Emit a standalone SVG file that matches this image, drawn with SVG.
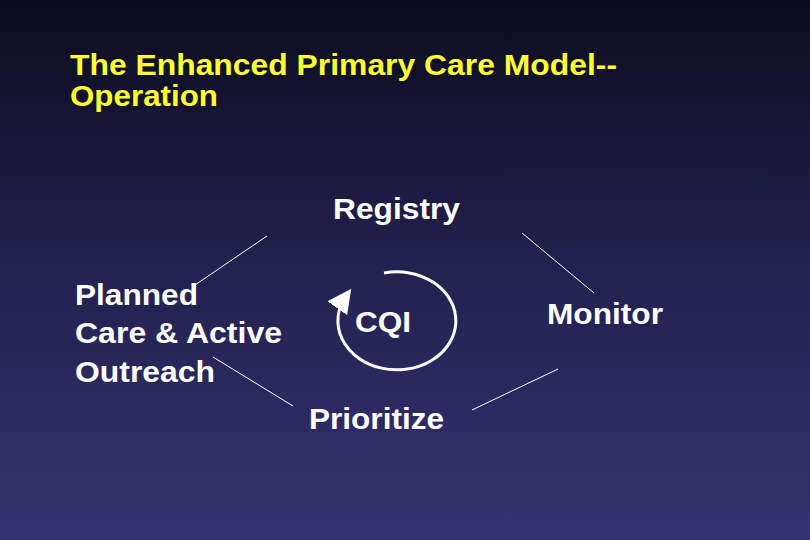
<svg xmlns="http://www.w3.org/2000/svg" width="810" height="540" viewBox="0 0 810 540">
<defs>
<linearGradient id="bg" x1="0" y1="0" x2="0" y2="1">
<stop offset="0" stop-color="#0c0c1e"/>
<stop offset="0.5" stop-color="#23214f"/>
<stop offset="1" stop-color="#363272"/>
</linearGradient>
<marker id="ah" markerWidth="8" markerHeight="8" refX="5" refY="4" orient="auto" markerUnits="strokeWidth">
<path d="M0,0 L8,4 L0,8 z" fill="#fff"/>
</marker>
<style>
.t{font-family:"Liberation Sans",Arial,sans-serif;font-weight:bold;fill:#fff;font-size:29px}
.h{font-family:"Liberation Sans",Arial,sans-serif;font-weight:bold;fill:#ffff33;font-size:29px}
.ln{stroke:#fff;stroke-width:1;fill:none}
</style>
</defs>
<rect width="810" height="540" fill="url(#bg)"/>
<g id="title"><text class="h" x="70" y="75" textLength="547" lengthAdjust="spacingAndGlyphs">The Enhanced Primary Care Model--</text><text class="h" x="70" y="106" textLength="148" lengthAdjust="spacingAndGlyphs">Operation</text></g>
<g id="connectors">
<line class="ln" x1="267" y1="236" x2="195" y2="285"/>
<line class="ln" x1="522" y1="233" x2="594" y2="293"/>
<line class="ln" x1="558" y1="369" x2="472" y2="410"/>
<line class="ln" x1="213" y1="357" x2="293" y2="406"/>
<path d="M384,273 A59,49 0 1 1 346,296" stroke="#fff" stroke-width="3" fill="none" marker-end="url(#ah)"/>
</g>
<g id="registry"><text class="t" x="333" y="219" textLength="127" lengthAdjust="spacingAndGlyphs">Registry</text></g>
<g id="planned"><text class="t" x="75" y="305" textLength="123" lengthAdjust="spacingAndGlyphs">Planned</text><text class="t" x="75" y="343" textLength="207" lengthAdjust="spacingAndGlyphs">Care &amp; Active</text><text class="t" x="75" y="382" textLength="140" lengthAdjust="spacingAndGlyphs">Outreach</text></g>
<g id="cqi"><text class="t" x="355" y="332" textLength="56" lengthAdjust="spacingAndGlyphs">CQI</text></g>
<g id="monitor"><text class="t" x="547" y="324" textLength="116" lengthAdjust="spacingAndGlyphs">Monitor</text></g>
<g id="prioritize"><text class="t" x="309" y="429" textLength="135" lengthAdjust="spacingAndGlyphs">Prioritize</text></g>
</svg>
